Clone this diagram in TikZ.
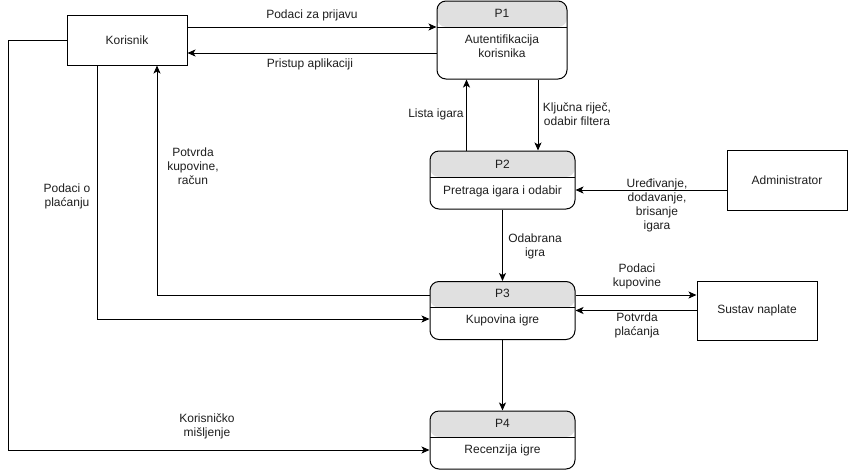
\documentclass[tikz,border=0pt]{standalone}
\usepackage{fontspec}
\setmainfont{Liberation Sans}
\usetikzlibrary{arrows.meta,calc}
\definecolor{hdr}{RGB}{224,224,224}
\definecolor{txt}{RGB}{30,30,30}
\begin{document}
\begin{tikzpicture}[x=1pt,y=-1pt,
  every node/.style={font=\fontsize{12}{14}\selectfont, inner sep=0pt, align=center, text=txt},
  ext/.style={draw, line width=1pt, minimum width=120pt},
  proc/.style={draw, line width=1pt, rounded corners=9pt, minimum width=145pt, minimum height=58pt,
    path picture={\fill[hdr] (path picture bounding box.north west) rectangle ([yshift=-26pt]path picture bounding box.north east);
      \draw[line width=1pt] ([yshift=-26pt]path picture bounding box.north west) -- ([yshift=-26pt]path picture bounding box.north east);}},
  flow/.style={line width=1pt, -{Stealth[length=8pt,width=7pt,inset=2pt]}}]
\useasboundingbox (0,0) rectangle (849,472);

% external entities
\node[ext, minimum height=50pt] (kor) at (127,40) {Korisnik};
\node[ext, minimum height=60pt] (adm) at (787,180) {Administrator};
\node[ext, minimum height=59pt] (sus) at (757,310.5) {Sustav naplate};

% processes
\node[proc, minimum width=130pt, minimum height=78pt] (p1) at (502,40) {};
\node (p1t) at (502,13) {P1};
\node (p1b) at (502,46.5) {Autentifikacija\\korisnika};

\node[proc] (p2) at (502.5,180) {};
\node (p2t) at (502.5,164) {P2};
\node (p2b) at (502.5,191) {Pretraga igara i odabir};

\node[proc] (p3) at (502.5,310.5) {};
\node (p3t) at (502.5,293.5) {P3};
\node (p3b) at (502.5,320) {Kupovina igre};

\node[proc] (p4) at (502.5,440) {};
\node (p4t) at (502.5,423) {P4};
\node (p4b) at (502.5,450) {Recenzija igre};

\coordinate (lft) at (8,40);

% flows
\draw[flow] ([yshift=13pt]kor.east) -- ([yshift=13pt]kor.east -| p1.west);
\draw[flow] ([yshift=-13pt]p1.west) -- ([yshift=-13pt]p1.west -| kor.east);
\draw[flow] ([xshift=-36pt]p2.north) -- ([xshift=-36pt]p2.north |- p1.south);
\draw[flow] ([xshift=36pt]p1.south) -- ([xshift=36pt]p1.south |- p2.north);
\draw[flow] ([yshift=-10pt]adm.west) -- ([yshift=-10pt]adm.west -| p2.east);
\draw[flow] (p2.south) -- (p3.north);
\draw[flow] ([yshift=15.5pt]p3.west) -| ([xshift=30pt]kor.south);
\draw[flow] ([xshift=-30pt]kor.south) |- ([yshift=-8.5pt]p3.west);
\draw[flow] (kor.west) -- (lft) |- ([yshift=-10pt]p4.west);
\draw[flow] ([yshift=15.5pt]p3.east) -- ([yshift=15.5pt]sus.west);
\draw[flow] (sus.west) -- (p3.east);
\draw[flow] (p3.south) -- (p4.north);

% flow labels
\node (l1) at (312,15) {Podaci za prijavu};
\node (l2) at (310,64.5) {Pristup aplikaciji};
\node (l3) at (436,114) {Lista igara};
\node (l4) at (577,114) {Ključna riječ,\\odabir filtera};
\node (l5) at (657,205.5) {Uređivanje,\\dodavanje,\\brisanje\\igara};
\node (l6) at (535,246) {Odabrana\\igra};
\node (l7) at (193,166) {Potvrda\\kupovine,\\račun};
\node (l8) at (67,196) {Podaci o\\plaćanju};
\node (l9) at (207,426) {Korisničko\\mišljenje};
\node (l10) at (637,276) {Podaci\\kupovine};
\node (l11) at (637,325.5) {Potvrda\\plaćanja};
\end{tikzpicture}
\end{document}
